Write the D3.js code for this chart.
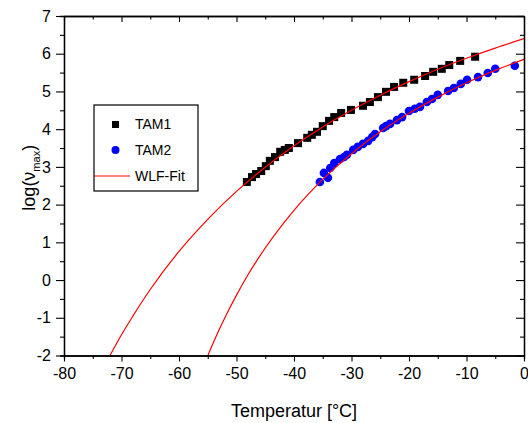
<!DOCTYPE html>
<html>
<head>
<meta charset="utf-8">
<script src="https://cdn.jsdelivr.net/npm/d3@7/dist/d3.min.js"></script>
<style>
  body { margin: 0; background: #fff; }
  svg text { font-family: Arial, "Liberation Sans", sans-serif; fill: #000; }
</style>
</head>
<body>
<script>
// TAM1 measured points: temperature [°C], log(v_max)
var tam1T = [-48.2, -47.3, -46.6, -45.7, -44.9, -44.2, -43.3, -42.4, -41.6, -40.9,
             -39.3, -37.7, -36.9, -36.0, -35.0, -33.9, -33.0, -31.8, -30.1, -28.0,
             -26.8, -25.4, -24.0, -22.6, -21.0, -19.1, -17.2, -15.8, -14.3, -13.0,
             -11.1, -8.5];
var tam1Y = [2.60, 2.73, 2.81, 2.89, 3.02, 3.16, 3.26, 3.40, 3.45, 3.50,
             3.63, 3.77, 3.85, 3.93, 4.08, 4.22, 4.32, 4.43, 4.51, 4.62,
             4.72, 4.85, 4.99, 5.12, 5.23, 5.31, 5.41, 5.52, 5.60, 5.70,
             5.81, 5.92];

// TAM2 measured points
var tam2T = [-35.5, -34.8, -34.1, -33.7, -33.0, -32.0, -31.3, -30.8, -29.7, -28.9,
             -28.0, -27.1, -26.4, -25.9, -24.5, -24.0, -23.3, -22.1, -21.2, -20.0,
             -19.0, -18.1, -16.9, -16.0, -15.0, -13.2, -12.2, -11.0, -9.9, -8.0,
             -6.3, -5.0, -1.6];
var tam2Y = [2.60, 2.84, 2.71, 2.97, 3.10, 3.21, 3.26, 3.32, 3.45, 3.53,
             3.61, 3.69, 3.79, 3.87, 4.03, 4.08, 4.14, 4.24, 4.32, 4.48,
             4.54, 4.59, 4.72, 4.80, 4.91, 5.01, 5.09, 5.20, 5.31, 5.38,
             5.49, 5.60, 5.68];

// WLF fit curves
var fit1T = [-72, -71, -70, -68, -65, -60, -55, -50, -45, -40, -35, -30, -25, -20, -15, -10, -5, 0];
var fit1Y = [-2.00, -1.72, -1.45, -0.95, -0.25, 0.76, 1.61, 2.35, 2.99, 3.56, 4.06, 4.50, 4.90, 5.26, 5.59, 5.88, 6.15, 6.40];
var fit2T = [-55, -54, -53, -52, -50, -48, -45, -40, -35, -30, -25, -20, -15, -10, -5, 0];
var fit2Y = [-2.01, -1.65, -1.31, -0.99, -0.40, 0.14, 0.85, 1.85, 2.67, 3.35, 3.93, 4.42, 4.85, 5.23, 5.56, 5.85];

var xTicks = [-80, -70, -60, -50, -40, -30, -20, -10, 0];
var yTicks = [-2, -1, 0, 1, 2, 3, 4, 5, 6, 7];
var legendLabels = ["TAM1", "TAM2", "WLF-Fit"];

var W = 528, H = 423;
var margin = { top: 16, right: 4, bottom: 67.5, left: 64 };
var width = W - margin.left - margin.right,
    height = H - margin.top - margin.bottom;

var svg = d3.select("body").append("svg")
    .attr("width", W)
    .attr("height", H);

var g = svg.append("g")
    .attr("transform", "translate(" + margin.left + "," + margin.top + ")");

var x = d3.scaleLinear().domain([-80, 0]).range([0, width]);
var y = d3.scaleLinear().domain([-2, 7]).range([height, 0]);

var minorX = d3.range(-75, 0, 10);
var minorY = d3.range(-1.5, 7, 1);
var plain = function (d) { return String(d); };  // hyphen minus like the original

g.append("clipPath").attr("id", "plotclip")
  .append("rect").attr("width", width).attr("height", height);

var line = d3.line()
    .x(function (d) { return x(d[0]); })
    .y(function (d) { return y(d[1]); })
    .curve(d3.curveMonotoneX);

// TAM2 circles
g.append("g").selectAll("circle")
    .data(d3.zip(tam2T, tam2Y))
    .enter().append("circle")
    .attr("cx", function (d) { return x(d[0]); })
    .attr("cy", function (d) { return y(d[1]); })
    .attr("r", 4.3)
    .attr("fill", "#0000ff");

// TAM1 squares
var sq = 8;
g.append("g").selectAll("rect")
    .data(d3.zip(tam1T, tam1Y))
    .enter().append("rect")
    .attr("x", function (d) { return x(d[0]) - sq / 2; })
    .attr("y", function (d) { return y(d[1]) - sq / 2; })
    .attr("width", sq)
    .attr("height", sq)
    .attr("fill", "#000");

// fit lines drawn over the points
[[fit1T, fit1Y], [fit2T, fit2Y]].forEach(function (f) {
    g.append("path")
        .datum(d3.zip(f[0], f[1]))
        .attr("clip-path", "url(#plotclip)")
        .attr("fill", "none")
        .attr("stroke", "#ff0000")
        .attr("stroke-width", 1.2)
        .attr("d", line);
});

// axes
function styleAxis(sel) {
    sel.selectAll("path").attr("stroke", "#000").attr("stroke-width", 1.3);
    sel.selectAll("line").attr("stroke", "#000").attr("stroke-width", 1.1);
    sel.selectAll("text").style("font-size", "16px").attr("fill", "#000");
}

g.append("g")
    .attr("transform", "translate(0," + height + ")")
    .call(d3.axisBottom(x).tickValues(xTicks).tickSize(6).tickSizeOuter(0).tickPadding(6).tickFormat(plain))
    .call(styleAxis);
g.append("g")
    .attr("transform", "translate(0," + height + ")")
    .call(d3.axisBottom(x).tickValues(minorX).tickSize(3.5).tickFormat(""))
    .call(styleAxis);

g.append("g")
    .call(d3.axisLeft(y).tickValues(yTicks).tickSize(8).tickSizeOuter(0).tickPadding(5).tickFormat(plain))
    .call(styleAxis);
g.append("g")
    .call(d3.axisLeft(y).tickValues(minorY).tickSize(4).tickFormat(""))
    .call(styleAxis);

// top & right with inward ticks
g.append("g")
    .call(d3.axisBottom(x).tickValues(xTicks).tickSize(6).tickSizeOuter(0).tickFormat(""))
    .call(styleAxis);
g.append("g")
    .call(d3.axisBottom(x).tickValues(minorX).tickSize(3.5).tickSizeOuter(0).tickFormat(""))
    .call(styleAxis);
g.append("g")
    .attr("transform", "translate(" + width + ",0)")
    .call(d3.axisLeft(y).tickValues(yTicks).tickSize(8).tickSizeOuter(0).tickFormat(""))
    .call(styleAxis);
g.append("g")
    .attr("transform", "translate(" + width + ",0)")
    .call(d3.axisLeft(y).tickValues(minorY).tickSize(4).tickSizeOuter(0).tickFormat(""))
    .call(styleAxis);

// axis titles
svg.append("text")
    .attr("x", margin.left + width / 2)
    .attr("y", 417)
    .attr("text-anchor", "middle")
    .style("font-size", "18px")
    .text("Temperatur [°C]");

var yl = svg.append("text")
    .attr("transform", "translate(35," + (margin.top + height / 2 - 8) + ") rotate(-90)")
    .attr("text-anchor", "middle")
    .style("font-size", "18px");
yl.append("tspan").text("log(\u03bd");
yl.append("tspan").attr("dy", 5).style("font-size", "11px").text("max");
yl.append("tspan").attr("dy", -5).text(")");

// legend
var lg = svg.append("g").attr("transform", "translate(94,105)");
lg.append("rect")
    .attr("width", 104).attr("height", 86)
    .attr("fill", "#fff").attr("stroke", "#000").attr("stroke-width", 1.2);
lg.append("rect").attr("x", 18).attr("y", 16).attr("width", 7).attr("height", 7).attr("fill", "#000");
lg.append("circle").attr("cx", 21.5).attr("cy", 45).attr("r", 4).attr("fill", "#0000ff");
lg.append("line").attr("x1", 0).attr("x2", 36).attr("y1", 71).attr("y2", 71)
    .attr("stroke", "#ff0000").attr("stroke-width", 1.2);
lg.selectAll("text.lab")
    .data(legendLabels)
    .enter().append("text")
    .attr("class", "lab")
    .attr("x", 41)
    .attr("y", function (d, i) { return 24 + i * 26; })
    .style("font-size", "14px")
    .text(function (d) { return d; });
</script>
</body>
</html>
